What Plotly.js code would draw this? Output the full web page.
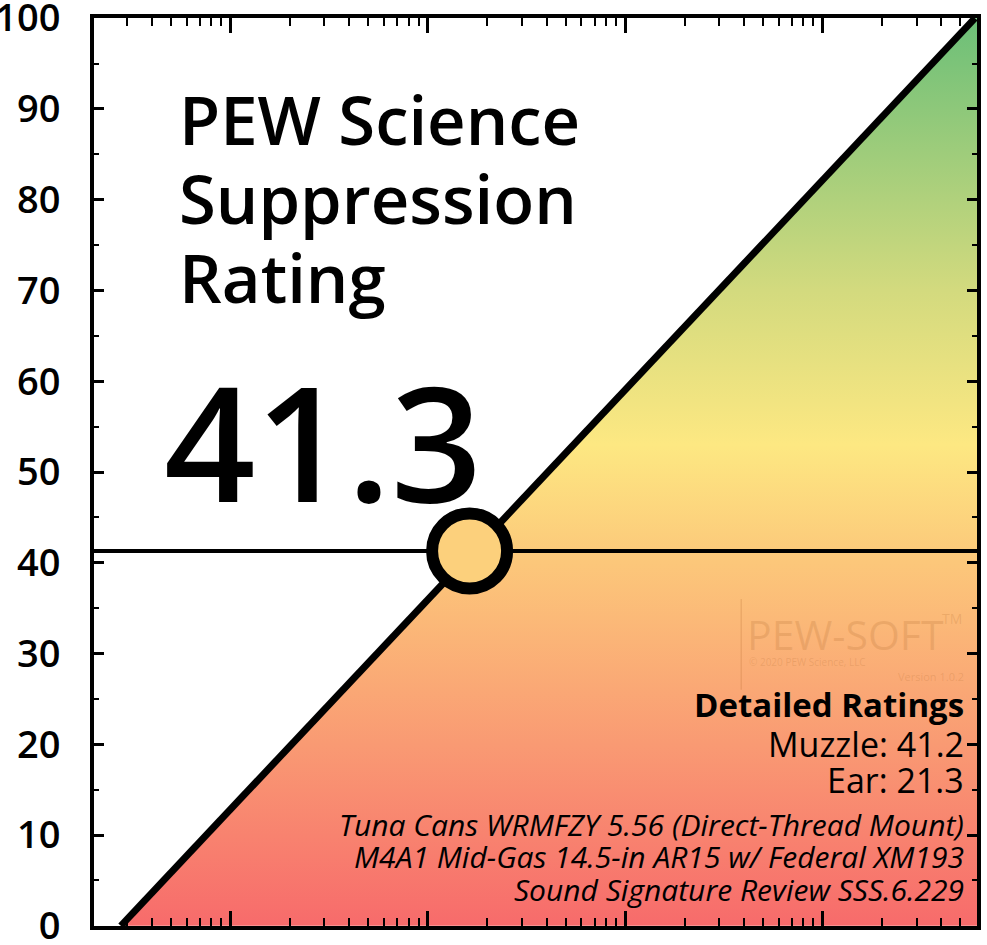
<!DOCTYPE html>
<html>
<head>
<meta charset="utf-8">
<script src="https://cdn.plot.ly/plotly-3.0.1.min.js"></script>
<style>html,body{margin:0;padding:0;background:#fff;}#chart{width:987px;height:945px;}</style>
</head>
<body>
<div id="chart"></div>
<script>
// ---- data ----
const overallRating = 41.3;
const muzzleRating = 41.2;
const earRating = 21.3;
const diagX = [2.79, 59200];
const diagY = [0, 100];
const fillX = [2.79, 59200, 1000000];
const fillY = [0, 100, 100];
const hLineX = [1, 1000000];
const pointX = [163];
const pointY = [overallRating];
const titleLines = ["PEW Science", "Suppression", "Rating"];
const detailLines = [
  "Tuna Cans WRMFZY 5.56 (Direct-Thread Mount)",
  "M4A1 Mid-Gas 14.5-in AR15 w/ Federal XM193",
  "Sound Signature Review SSS.6.229"
];
const yTickVals = [0,10,20,30,40,50,60,70,80,90,100];
const yTickText = ["0","10","20","30","40","50","60","70","80","90","100"];

const F = 'Open Sans, Noto Sans, sans-serif';

const traces = [
  {x: fillX, y: fillY, mode: 'lines', fill: 'tozeroy', line: {width: 0, color: 'rgba(0,0,0,0)'},
   fillgradient: {type: 'vertical', start: 0, stop: 100,
     colorscale: [[0, '#f76b6b'], [0.2, '#f99a73'], [0.4, '#fcc77a'], [0.53, '#fde882'], [0.7, '#d3da7e'], [1, '#6bbf78']]},
   hoverinfo: 'skip', showlegend: false},
  {x: diagX, y: diagY, mode: 'lines', line: {color: '#000', width: 7}, hoverinfo: 'skip', showlegend: false},
  {x: hLineX, y: [overallRating, overallRating], mode: 'lines', line: {color: '#000', width: 4}, hoverinfo: 'skip', showlegend: false},
  {x: pointX, y: pointY, mode: 'markers', marker: {size: 75, color: '#fcd07c', line: {color: '#000', width: 12}}, hoverinfo: 'skip', showlegend: false, cliponaxis: false}
];

const ann = [];
const titleY = [88.9, 80.2, 71.5];
titleLines.forEach((t, i) => ann.push({text: t, xref: 'paper', yref: 'y', x: 0.0945, y: titleY[i], xanchor: 'left', yanchor: 'middle', showarrow: false, font: {family: F, size: 67, color: '#000', weight: 600}}));
ann.push({text: overallRating.toFixed(1), xref: 'paper', yref: 'y', x: 0.077, y: 53.5, xanchor: 'left', yanchor: 'middle', showarrow: false, font: {family: F, size: 160, color: '#000', weight: 600}});
const RX = 0.988;
ann.push({text: '<b>Detailed Ratings</b>', xref: 'paper', yref: 'y', x: RX, y: 24.4, xanchor: 'right', yanchor: 'middle', showarrow: false, font: {family: F, size: 33, color: '#000'}});
ann.push({text: 'Muzzle: ' + muzzleRating.toFixed(1), xref: 'paper', yref: 'y', x: RX, y: 20.0, xanchor: 'right', yanchor: 'middle', showarrow: false, font: {family: F, size: 34, color: '#000'}});
ann.push({text: 'Ear: ' + earRating.toFixed(1), xref: 'paper', yref: 'y', x: RX, y: 16.1, xanchor: 'right', yanchor: 'middle', showarrow: false, font: {family: F, size: 34, color: '#000'}});
const detY = [11.2, 7.6, 3.96];
detailLines.forEach((t, i) => ann.push({text: '<i>' + t + '</i>', xref: 'paper', yref: 'y', x: RX, y: detY[i], xanchor: 'right', yanchor: 'middle', showarrow: false, font: {family: F, size: 30, color: '#000'}}));
// watermark
const wm = 'rgba(180,110,50,0.22)';
ann.push({text: 'PEW-SOFT', xref: 'paper', yref: 'y', x: 0.737, y: 32.2, xanchor: 'left', yanchor: 'middle', showarrow: false, font: {family: F, size: 41, color: wm, weight: 500}});
ann.push({text: 'TM', xref: 'paper', yref: 'y', x: 0.958, y: 33.9, xanchor: 'left', yanchor: 'middle', showarrow: false, font: {family: F, size: 14, color: wm}});
ann.push({text: '© 2020 PEW Science, LLC', xref: 'paper', yref: 'y', x: 0.74, y: 29.1, xanchor: 'left', yanchor: 'middle', showarrow: false, font: {family: F, size: 10, color: wm}});
ann.push({text: 'Version 1.0.2', xref: 'paper', yref: 'y', x: RX, y: 27.5, xanchor: 'right', yanchor: 'middle', showarrow: false, font: {family: F, size: 11, color: wm}});

const layout = {
  width: 987, height: 945,
  margin: {l: 94, r: 10, t: 18, b: 19, pad: 0},
  paper_bgcolor: '#fff', plot_bgcolor: '#fff',
  showlegend: false,
  xaxis: {type: 'log', range: [0.3095, 4.7827], dtick: 1, showticklabels: false, showgrid: false, zeroline: false,
    ticks: 'inside', ticklen: 15, tickwidth: 3, tickcolor: '#000',
    minor: {ticks: 'inside', ticklen: 8, tickwidth: 2, tickcolor: '#000', dtick: 'D1', showgrid: false},
    showline: true, linecolor: '#000', linewidth: 4, mirror: 'ticks', fixedrange: true},
  yaxis: {range: [-0.02, 100.02], tickmode: 'array', tickvals: yTickVals, ticktext: yTickText, showgrid: false, zeroline: false,
    ticks: 'inside', ticklen: 10, tickwidth: 3, tickcolor: '#000',
    minor: {ticks: 'inside', ticklen: 5, tickwidth: 2, tickcolor: '#000', dtick: 5, showgrid: false},
    showline: true, linecolor: '#000', linewidth: 4, mirror: 'ticks',
    tickfont: {family: F, size: 38, color: '#000', weight: 600}, ticklabelstandoff: 22, ticklabeloverflow: 'allow', fixedrange: true},
  shapes: [
    {type: 'line', xref: 'paper', yref: 'y', x0: 0.733, x1: 0.733, y0: 26, y1: 36, line: {color: wm, width: 1.5}, layer: 'above'}
  ],
  annotations: ann
};

Plotly.newPlot('chart', traces, layout, {displayModeBar: false, staticPlot: true});
</script>
</body>
</html>
